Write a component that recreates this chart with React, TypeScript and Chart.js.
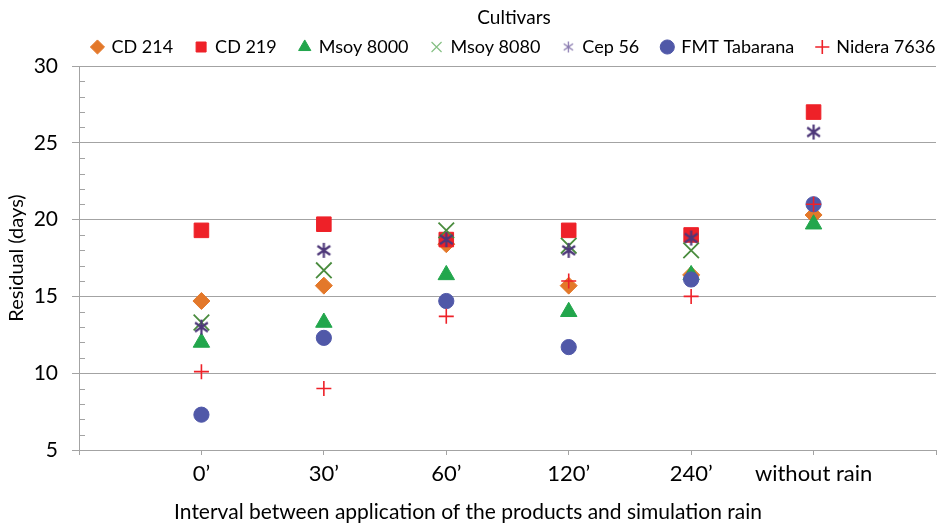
import React, { useEffect, useRef } from 'react';
import { Chart, registerables } from 'chart.js';

Chart.register(...registerables);

const xLabels = ['', '0’', '30’', '60’', '120’', '240’', 'without rain', ''];
const seriesNames = ['CD 214', 'CD 219', 'Msoy 8000', 'Msoy 8080', 'Cep 56', 'FMT Tabarana', 'Nidera 7636'];
const cd214 = [14.7, 15.7, 18.4, 15.7, 16.4, 20.3];
const cd219 = [19.3, 19.7, 18.7, 19.3, 19.0, 27.0];
const msoy8000 = [12.0, 13.3, 16.4, 14.0, 16.4, 19.7];
const msoy8080 = [13.3, 16.7, 19.3, 18.3, 18.0, null];
const cep56 = [13.0, 18.0, 18.7, 18.0, 18.8, 25.7];
const fmtTabarana = [7.3, 12.3, 14.7, 11.7, 16.1, 21.0];
const nidera7636 = [10.1, 9.0, 13.7, 16.0, 15.0, 21.0];
const seriesValues = [cd214, cd219, msoy8000, msoy8080, cep56, fmtTabarana, nidera7636];

const FONT = 'Lato, "Open Sans", sans-serif';
const GRID = '#a3a3a3';

function makeStar(size: number, color: string, lw: number) {
  const c = document.createElement('canvas');
  c.width = size;
  c.height = size;
  const g = c.getContext('2d')!;
  g.strokeStyle = color;
  g.lineWidth = lw;
  const m = size / 2;
  const a = size / 2 - 1;
  const dx = a * 0.85;
  const dy = a * 0.6;
  g.beginPath();
  g.moveTo(m, m - a);
  g.lineTo(m, m + a);
  g.moveTo(m - dx, m - dy);
  g.lineTo(m + dx, m + dy);
  g.moveTo(m + dx, m - dy);
  g.lineTo(m - dx, m + dy);
  g.stroke();
  return c;
}

export default function App() {
  const ref = useRef<HTMLCanvasElement>(null);

  useEffect(() => {
    const starBig = makeStar(17, '#4d3779', 2.2);
    const starSmall = makeStar(13, '#8a7bb0', 1.3);

    const styles: any[] = [
      { color: '#E3782A', style: 'rectRot', radius: 8.5, bw: 1 },
      { color: '#EE2128', style: 'rect', radius: 10.3, bw: 1 },
      { color: '#22A64C', style: 'triangle', radius: 9.5, bw: 1 },
      { color: '#4A8C3E', style: 'crossRot', radius: 11, bw: 1.8 },
      { color: '#4d3779', style: starBig, radius: 8, bw: 1 },
      { color: '#5058A8', style: 'circle', radius: 7.6, bw: 1 },
      { color: '#EE2128', style: 'cross', radius: 7.5, bw: 1.6 },
    ];

    const datasets = seriesNames.map((name, i) => ({
      label: name,
      data: seriesValues[i]
        .map((v, j) => ({ x: j + 1, y: v }))
        .filter((p) => p.y !== null),
      showLine: false,
      order: 10 - i,
      pointStyle: styles[i].style,
      pointRadius: styles[i].radius,
      pointHoverRadius: styles[i].radius,
      pointBackgroundColor: styles[i].color,
      pointBorderColor: styles[i].color,
      pointBorderWidth: styles[i].bw,
      backgroundColor: styles[i].color,
      borderColor: styles[i].color,
    }));

    const minorTicks = {
      id: 'minorTicks',
      beforeDatasetsDraw(chart: any) {
        const y = chart.scales.y;
        const ctx = chart.ctx;
        const left = chart.chartArea.left;
        ctx.save();
        ctx.strokeStyle = GRID;
        ctx.lineWidth = 1;
        for (let v = y.min; v <= y.max; v++) {
          if (v % 5 === 0) continue;
          const py = Math.round(y.getPixelForValue(v)) + 0.5;
          ctx.beginPath();
          ctx.moveTo(left, py);
          ctx.lineTo(left + 6, py);
          ctx.stroke();
        }
        ctx.restore();
      },
    };

    const legendShift = {
      id: 'legendShift',
      afterLayout(chart: any) {
        const lg = chart.legend;
        if (lg) {
          lg.left += 46;
          lg.right += 46;
        }
      },
    };

    const chart = new Chart(ref.current!, {
      type: 'scatter',
      data: { datasets: datasets as any },
      plugins: [minorTicks, legendShift],
      options: {
        animation: false,
        responsive: false,
        maintainAspectRatio: false,
        layout: { autoPadding: false, padding: { left: 0, right: 2, top: 0, bottom: 0 } },
        plugins: {
          tooltip: { enabled: false },
          legend: {
            display: true,
            position: 'top',
            title: {
              display: true,
              text: 'Cultivars',
              color: '#000',
              font: { family: FONT, size: 19, lineHeight: '7px' as any },
              padding: { top: 8, bottom: 0 } as any,
            },
            labels: {
              usePointStyle: true,
              boxWidth: 10,
              boxHeight: 10,
              padding: 23,
              color: '#000',
              font: { family: FONT, size: 18 },
              sort: (a: any, b: any) => a.datasetIndex - b.datasetIndex,
              generateLabels: (ch: any) => {
                const items = Chart.defaults.plugins.legend.labels.generateLabels(ch);
                return items.map((it: any) => {
                  if (it.datasetIndex === 4) it.pointStyle = starSmall;
                  if (it.datasetIndex === 3) {
                    it.strokeStyle = '#86c084';
                    it.lineWidth = 1.2;
                  }
                  return it;
                });
              },
            },
          },
          title: {
            display: true,
            position: 'bottom',
            text: 'Interval between application of the products and simulation rain',
            color: '#000',
            font: { family: FONT, size: 21, weight: 'normal' },
            padding: { top: 0, bottom: 2 },
          },
        },
        scales: {
          x: {
            type: 'linear',
            min: 0,
            max: 7,
            afterFit: (s: any) => {
              s.height = 49.8;
              s.paddingLeft = 0;
              s.paddingRight = 0;
            },
            ticks: {
              stepSize: 1,
              autoSkip: false,
              maxRotation: 0,
              color: '#000',
              padding: 6,
              font: { family: FONT, size: 22 },
              callback: (v: any) => xLabels[v] ?? '',
            },
            grid: {
              drawOnChartArea: false,
              drawTicks: true,
              tickLength: 5,
              color: GRID,
            },
            border: { display: true, color: GRID },
          },
          y: {
            min: 5,
            max: 30,
            afterFit: (s: any) => {
              s.width = 79;
            },
            ticks: {
              stepSize: 5,
              color: '#000',
              padding: 14,
              font: { family: FONT, size: 21 },
            },
            grid: {
              color: GRID,
              tickLength: 7,
            },
            border: { display: true, color: GRID },
            title: {
              display: true,
              text: 'Residual (days)',
              color: '#000',
              font: { family: FONT, size: 20 },
              padding: { top: 5, bottom: 0 },
            },
          },
        },
      },
    });

    return () => chart.destroy();
  }, []);

  return (
    <div style={{ position: 'fixed', left: 0, top: 0, width: 938, height: 527, background: '#fff' }}>
      <canvas ref={ref} width={938} height={527} style={{ width: 938, height: 527, display: 'block' }} />
    </div>
  );
}
